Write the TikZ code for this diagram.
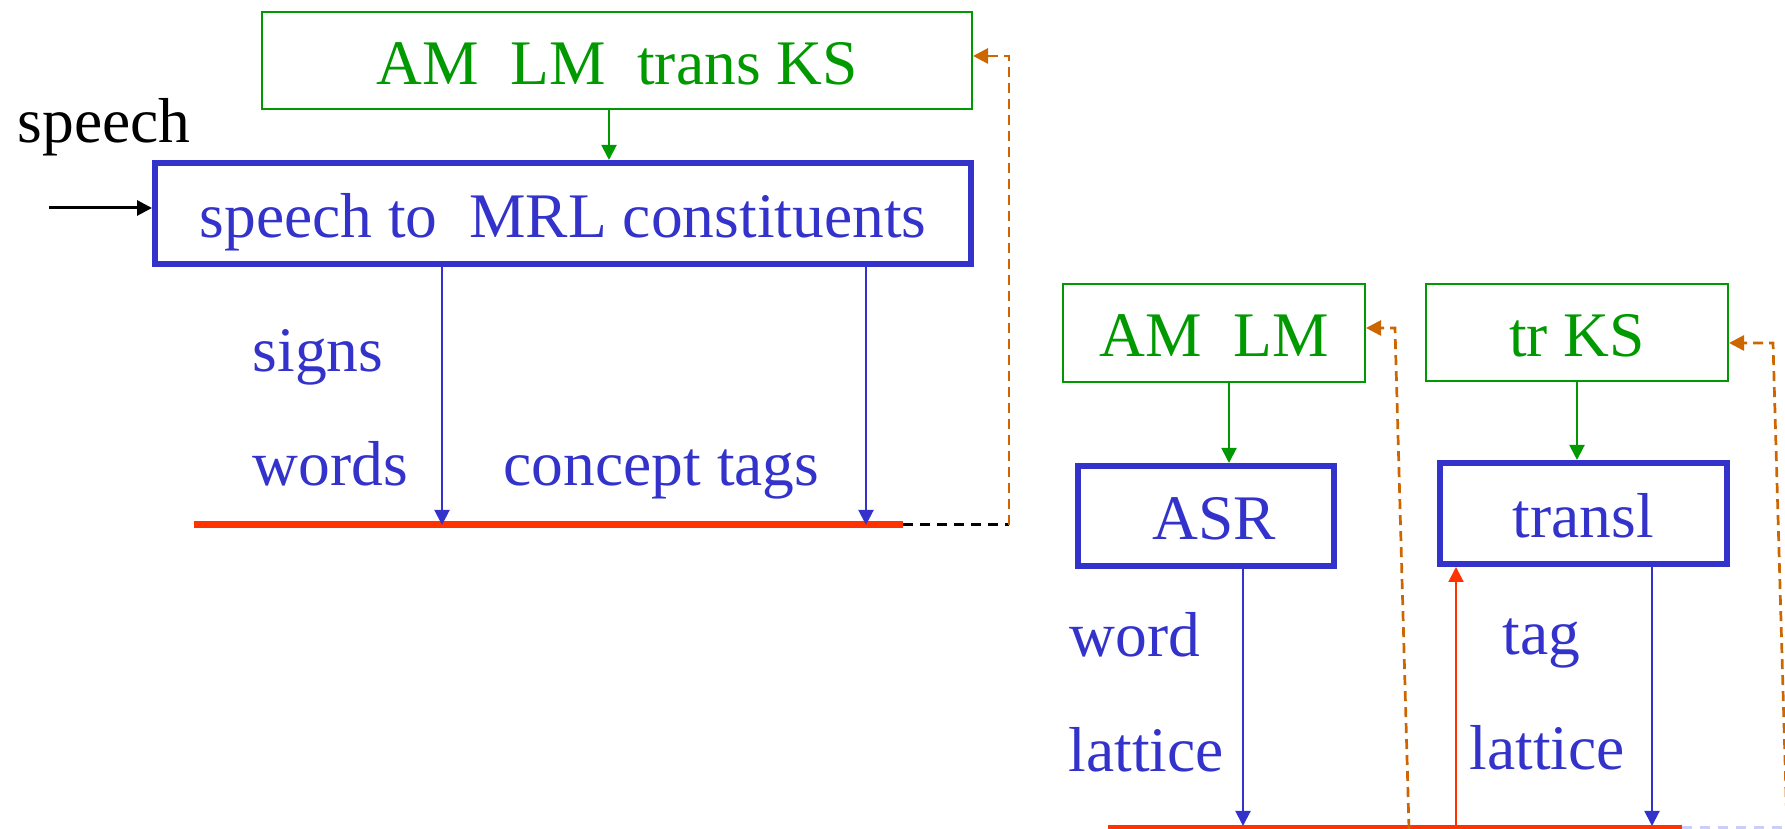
\documentclass[tikz,border=0pt]{standalone}
\usepackage{fontspec}
\setmainfont{Liberation Serif}
\usetikzlibrary{arrows.meta}

\definecolor{procblue}{HTML}{3333CC}
\definecolor{ksgreen}{HTML}{009900}
\definecolor{busred}{HTML}{FF3300}
\definecolor{fbbrown}{HTML}{CC6600}
\definecolor{paleblue}{HTML}{CCCCFF}

\tikzset{
  every node/.style={font=\fontsize{18.07pt}{22pt}\selectfont, inner sep=0pt},
  tip/.style={-{Triangle[length=1.5mm,width=1.5mm]}},
  boxtext/.style={text height=13.4pt, text depth=0pt},
  ksbox/.style={boxtext, draw=ksgreen, line width=0.2mm, text=ksgreen},
  procbox/.style={boxtext, draw=procblue, line width=0.6mm, text=procblue},
  lbl/.style={text=procblue, anchor=base west},
  bus/.style={draw=busred, line width=0.7mm},
  ksflow/.style={tip, draw=ksgreen, line width=0.2mm},
  outflow/.style={tip, draw=procblue, line width=0.2mm},
  inflow/.style={tip, draw=busred, line width=0.2mm},
  fb/.style={tip, draw=fbbrown, line width=0.27mm, dash pattern=on 1mm off 0.6mm}
}

\begin{document}
\begin{tikzpicture}[x=0.1mm, y=-0.1mm]
  \useasboundingbox (0,0) rectangle (1785,829);

  % knowledge sources
  \begin{scope}[every node/.append style={ksbox}]
    \node[minimum width=71mm,   minimum height=9.7mm] (ks)   at (617,60.5)  {AM\ \ LM\ \ trans KS};
    \node[minimum width=30.2mm, minimum height=9.8mm] (amlm) at (1214,333)  {AM\ \ LM};
    \node[minimum width=30.2mm, minimum height=9.7mm] (trks) at (1577,332.5) {tr KS};
  \end{scope}

  % recognisers
  \begin{scope}[every node/.append style={procbox}]
    \node[minimum width=81.6mm, minimum height=10.1mm] (mrl)    at (563,213.5)  {speech to\ \ MRL constituents};
    \node[minimum width=25.6mm, minimum height=10mm]   (asr)    at (1206,516)   {\ ASR};
    \node[minimum width=28.7mm, minimum height=10.1mm] (transl) at (1583.5,513.5) {transl};
  \end{scope}

  \node[anchor=base west] (speech) at (17,143) {speech};

  \node[lbl] (signs)   at (252,372)  {signs};
  \node[lbl] (words)   at (252,486)  {words};
  \node[lbl] (ctags)   at (503,486)  {concept tags};
  \node[lbl] (wordl)   at (1069,657) {word};
  \node[lbl] (latl)    at (1068,772) {lattice};
  \node[lbl] (tagr)    at (1502,655) {tag};
  \node[lbl] (latr)    at (1469,770) {lattice};

  % buses
  \coordinate (busAl) at (194,525);
  \coordinate (busAr) at (903,525);
  \coordinate (busBl) at (1108,829);
  \coordinate (busBr) at (1682,829);
  \coordinate (busBend) at (1800,829);
  \draw[bus] (busAl) -- (busAr);
  \draw[bus] (busBl) -- (busBr);
  \draw[paleblue, line width=0.6mm, dash pattern=on 1mm off 0.8mm] (busBr) -- (busBend);

  % input
  \coordinate (in) at (49,208);
  \draw[tip, line width=0.3mm] (in) -- (in -| mrl.west);

  % knowledge source arrows
  \coordinate (g1) at (609,0);
  \coordinate (g2) at (1229,0);
  \draw[ksflow] (g1 |- ks.south) -- (g1 |- mrl.north);
  \draw[ksflow] (g2 |- amlm.south) -- (g2 |- asr.north);
  \draw[ksflow] (trks.south) -- (trks.south |- transl.north);

  % outputs onto the buses
  \coordinate (o1) at (442,525);
  \coordinate (o2) at (866,525);
  \coordinate (o3) at (1243,826);
  \coordinate (o4) at (1652,826);
  \coordinate (i4) at (1456,826);
  \draw[outflow] (o1 |- mrl.south) -- (o1);
  \draw[outflow] (o2 |- mrl.south) -- (o2);
  \draw[outflow] (o3 |- asr.south) -- (o3);
  \draw[outflow] (o4 |- transl.south) -- (o4);
  \draw[inflow] (i4) -- (i4 |- transl.south);

  % feedback
  \coordinate (fbA)    at (1009,525);
  \coordinate (fbAtop) at (1009,56);
  \draw[black, line width=0.3mm, dash pattern=on 1mm off 0.7mm] (busAr) -- (fbA);
  \draw[fb] (fbA) -- (fbAtop) -- (fbAtop -| ks.east);

  \coordinate (fbBbot) at (1409,829);
  \coordinate (fbBtop) at (1395,328);
  \draw[fb] (fbBbot) -- (fbBtop) -- (fbBtop -| amlm.east);

  \coordinate (fbCbot) at (1787,829);
  \coordinate (fbCtop) at (1773,343);
  \draw[fb] (fbCbot) -- (fbCtop) -- (fbCtop -| trks.east);
\end{tikzpicture}
\end{document}
